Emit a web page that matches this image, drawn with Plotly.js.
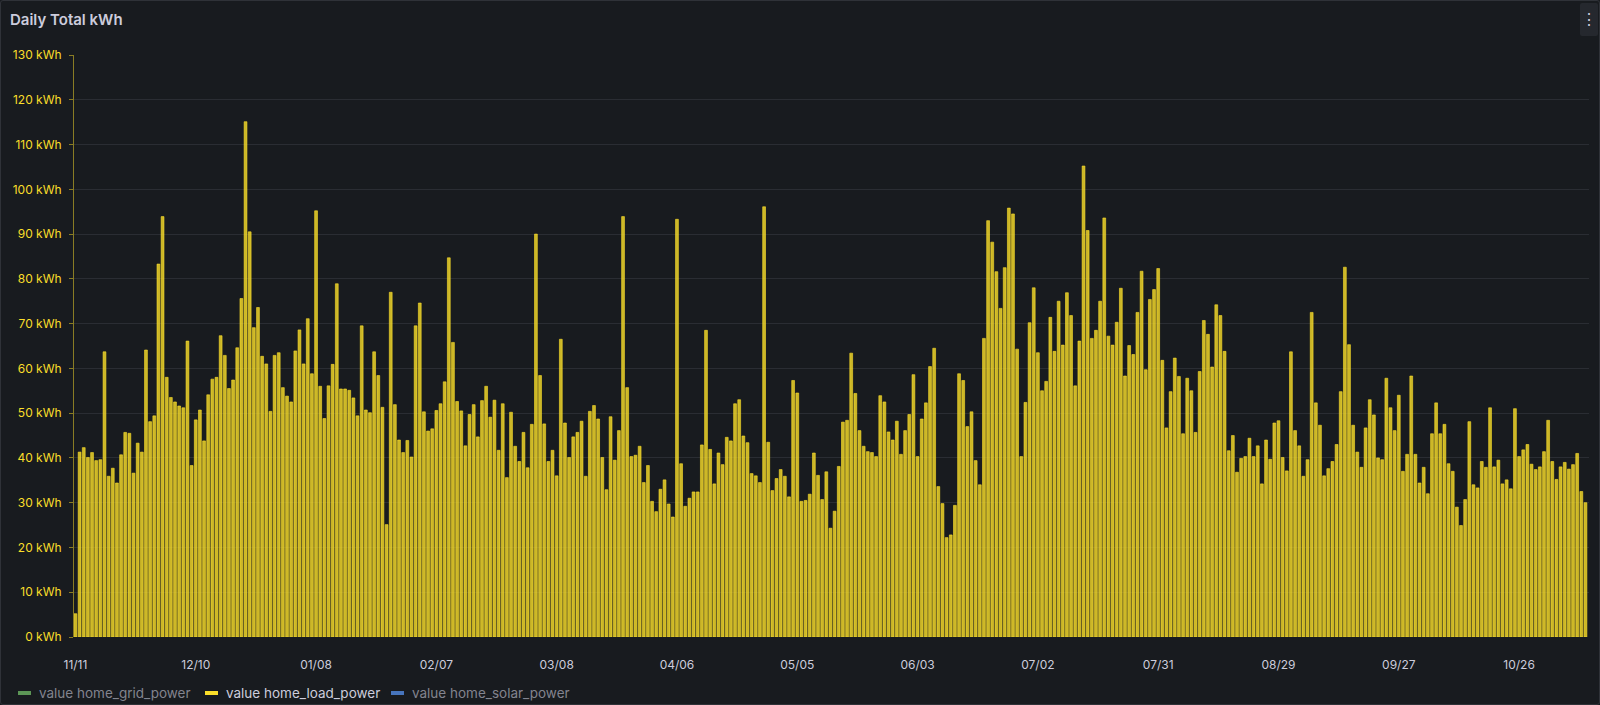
<!DOCTYPE html>
<html>
<head>
<meta charset="utf-8">
<title>Daily Total kWh</title>
<script src="https://cdn.plot.ly/plotly-3.0.1.min.js"></script>
<style>
  html, body { margin: 0; padding: 0; background: #111217; }
  #panel { position: relative; width: 1600px; height: 705px; }
  #myDiv { position: absolute; left: 0; top: 0; width: 1600px; height: 705px; }
  #frame { position: absolute; left: 0; top: 0; width: 1600px; height: 705px; box-sizing: border-box;
           border: 1px solid #2f3238; border-radius: 3px; pointer-events: none; }
  #menu { position: absolute; left: 1580px; top: 3px; width: 18px; height: 33px; background: #25282e;
          border-radius: 2px; color: #ccccdc; font: 16px Inter, sans-serif; text-align: center; line-height: 33px; }
</style>
</head>
<body>
<div id="panel">
  <div id="myDiv"></div>
  <div id="frame"></div>
  <div id="menu">&#8942;</div>
</div>
<script>
// tick labels, one every 29 bars
var tickLabels = ['11/11', '12/10', '01/08', '02/07', '03/08', '04/06', '05/05',
                  '06/03', '07/02', '07/31', '08/29', '09/27', '10/26'];

// daily load (kWh), one array per tick period
var kwh1111 = [5.2, 41.3, 42.3, 40.1, 41.2, 39.4, 39.6, 63.7, 35.9, 37.7, 34.4, 40.7, 45.7, 45.5, 36.6,
               43.3, 41.3, 64.1, 48.1, 49.4, 83.3, 93.9, 58.0, 53.5, 52.5, 51.6, 51.2, 66.1, 38.3];
var kwh1210 = [48.5, 50.7, 43.8, 54.1, 57.6, 58.0, 67.3, 62.9, 55.5, 57.4, 64.6, 75.6, 115.1, 90.5, 69.1,
               73.6, 62.7, 61.0, 50.4, 62.9, 63.5, 55.7, 53.8, 52.5, 63.9, 68.6, 61.0, 71.1, 58.8];
var kwh0108 = [95.2, 56.0, 48.8, 56.1, 60.9, 78.9, 55.4, 55.4, 55.1, 53.4, 49.4, 69.5, 50.7, 50.1, 63.7,
               58.4, 51.3, 25.1, 77.0, 51.9, 44.0, 41.2, 43.9, 40.2, 69.5, 74.6, 50.3, 46.0, 46.5];
var kwh0207 = [50.6, 52.1, 57.0, 84.7, 65.8, 52.6, 50.5, 42.7, 49.7, 51.9, 44.7, 52.8, 56.0, 49.1, 52.9,
               41.7, 52.1, 35.6, 50.2, 42.6, 39.2, 45.7, 37.8, 47.5, 90.0, 58.4, 47.6, 39.2, 41.7];
var kwh0308 = [36.0, 66.5, 47.8, 40.1, 44.7, 45.7, 48.2, 35.9, 50.4, 51.7, 48.7, 40.1, 32.9, 49.2, 39.5,
               46.1, 93.9, 55.7, 40.3, 40.6, 42.6, 34.5, 38.3, 30.3, 28.0, 33.0, 35.1, 29.7, 26.8];
var kwh0406 = [93.3, 38.7, 29.2, 31.0, 32.4, 32.4, 42.9, 68.5, 41.9, 34.2, 41.1, 38.5, 44.6, 43.8, 52.1,
               53.0, 44.9, 43.4, 36.5, 36.0, 34.5, 96.1, 43.5, 32.7, 35.4, 37.4, 35.9, 31.3, 57.3];
var kwh0505 = [54.5, 30.3, 30.5, 31.9, 41.1, 36.1, 30.7, 36.9, 24.3, 28.1, 38.1, 48.0, 48.4, 63.4, 54.4,
               46.1, 42.6, 41.4, 41.2, 40.3, 53.9, 52.5, 45.8, 44.0, 48.2, 40.8, 46.1, 49.7, 58.6];
var kwh0603 = [40.3, 48.7, 52.3, 60.4, 64.5, 33.6, 29.8, 22.2, 22.8, 29.4, 58.8, 57.3, 47.0, 50.3, 39.4,
               34.0, 66.7, 93.0, 88.2, 81.6, 73.4, 82.5, 95.8, 94.5, 64.3, 40.3, 52.4, 70.2, 78.0];
var kwh0702 = [63.5, 55.0, 57.1, 71.4, 63.8, 75.0, 65.2, 76.9, 71.8, 56.1, 66.1, 105.2, 90.8, 66.7, 68.5,
               75.0, 93.6, 67.2, 65.2, 70.3, 77.9, 58.3, 65.1, 63.1, 72.5, 81.7, 59.7, 75.4, 77.6];
var kwh0731 = [82.3, 61.8, 46.7, 54.8, 62.3, 58.2, 45.4, 57.8, 55.0, 45.7, 59.3, 70.7, 67.6, 60.3, 74.2,
               71.8, 63.8, 41.6, 45.0, 36.8, 39.9, 40.3, 44.4, 40.3, 42.7, 34.2, 44.0, 39.7, 47.8];
var kwh0829 = [48.3, 40.1, 37.1, 63.7, 46.1, 42.7, 35.9, 39.6, 72.5, 52.3, 47.3, 36.0, 37.6, 39.2, 43.0,
               54.8, 82.6, 65.3, 47.3, 41.3, 37.9, 46.7, 53.0, 49.6, 40.0, 39.6, 57.8, 51.2, 46.1];
var kwh0927 = [54.0, 37.0, 40.8, 58.3, 40.8, 34.4, 37.9, 32.0, 45.4, 52.3, 45.4, 47.5, 38.7, 37.0, 29.0,
               24.9, 30.7, 48.1, 34.0, 33.3, 39.2, 37.9, 51.2, 38.0, 39.5, 34.2, 35.1, 33.1, 51.0];
var kwh1026 = [40.3, 41.8, 43.0, 38.6, 37.4, 38.0, 41.4, 48.4, 39.2, 35.2, 38.0, 39.0, 37.5, 38.5, 41.0,
               32.5, 30.0];

var seriesNames = ['value home_grid_power', 'value home_load_power', 'value home_solar_power'];
var seriesShown = [false, true, false];

var periods = [kwh1111, kwh1210, kwh0108, kwh0207, kwh0308, kwh0406, kwh0505,
               kwh0603, kwh0702, kwh0731, kwh0829, kwh0927, kwh1026];

var loadKwh = [];
var tickVals = [];
periods.forEach(function(p) {
    tickVals.push(loadKwh.length);
    p.forEach(function(v) { loadKwh.push(v); });
});
var bars = loadKwh.map(function(v, i) { return i; });

var YELLOW = '#fade2a';
var legendColors = ['#73bf69', YELLOW, '#5794f2'];
var FONT = 'Inter, "Noto Sans", sans-serif';

var trace = {
    x: bars,
    y: loadKwh,
    type: 'bar',
    name: seriesNames[1],
    marker: { color: 'rgba(250,222,42,0.8)', line: { color: YELLOW, width: 0.6 } },
    hoverinfo: 'skip'
};

// legend drawn the grafana way: short dash + label
var L = 74, B = 637;
var legendY = 693;
var dashPx = [18, 205, 391];
var shapes = [];
var annotations = [];
seriesNames.forEach(function(n, k) {
    shapes.push({
        type: 'line', xref: 'paper', yref: 'paper', xsizemode: 'pixel', ysizemode: 'pixel',
        xanchor: 0, yanchor: 0,
        x0: dashPx[k] - L, x1: dashPx[k] - L + 13, y0: B - legendY, y1: B - legendY,
        line: { color: legendColors[k], width: 4 },
        opacity: seriesShown[k] ? 1 : 0.75
    });
    annotations.push({
        xref: 'paper', yref: 'paper', x: 0, y: 0, xanchor: 'left', yanchor: 'middle',
        xshift: dashPx[k] - L + 19, yshift: B - legendY, showarrow: false, text: n,
        font: { family: FONT, size: 13.5, color: seriesShown[k] ? '#ccccdc' : 'rgba(204,204,220,0.6)' }
    });
});

var layout = {
    width: 1600,
    height: 705,
    margin: { l: L, r: 11, t: 55, b: 705 - B },
    paper_bgcolor: '#181b1f',
    plot_bgcolor: '#181b1f',
    showlegend: false,
    bargap: 0.32,
    hovermode: false,
    title: {
        text: 'Daily Total kWh', xref: 'container', yref: 'container',
        x: 10 / 1600, xanchor: 'left', y: 1 - 20 / 705, yanchor: 'middle',
        font: { family: FONT, size: 15, color: '#ccccdc', weight: 600 }
    },
    xaxis: {
        range: [-0.35, 364.85],
        tickmode: 'array',
        tickvals: tickVals,
        ticktext: tickLabels,
        showgrid: false,
        zeroline: false,
        showline: false,
        ticks: '',
        ticklabelstandoff: 19,
        tickfont: { family: FONT, size: 12, color: '#ccccdc' }
    },
    yaxis: {
        range: [0, 130],
        dtick: 10,
        ticksuffix: ' kWh',
        showgrid: true,
        gridcolor: '#2a2d33',
        gridwidth: 1,
        zeroline: false,
        showline: true,
        linecolor: 'rgba(250,222,42,0.5)',
        linewidth: 1,
        ticks: 'outside',
        ticklen: 4,
        tickcolor: 'rgba(250,222,42,0.5)',
        ticklabelstandoff: 5,
        tickfont: { family: FONT, size: 12, color: YELLOW }
    },
    shapes: shapes,
    annotations: annotations
};

Plotly.newPlot('myDiv', [trace], layout, { displayModeBar: false, staticPlot: true });
</script>
</body>
</html>
